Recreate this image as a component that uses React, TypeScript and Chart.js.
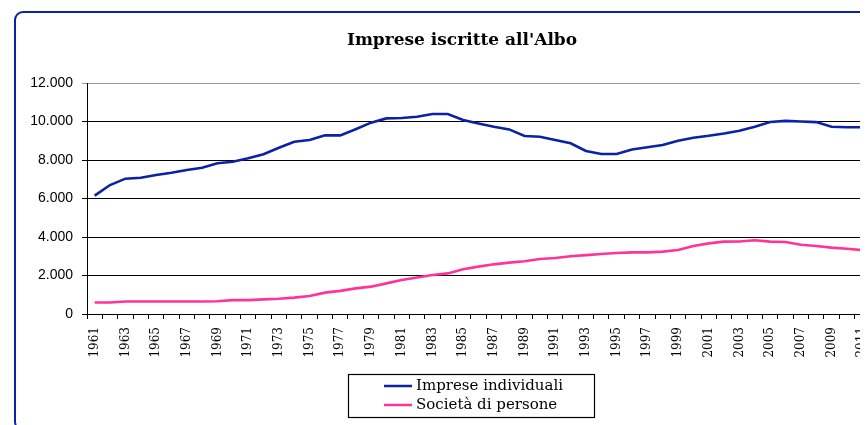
import React, { useEffect, useRef } from "react";
import { Chart, registerables } from "chart.js";

Chart.register(...registerables);

const years: string[] = [];
for (let y = 1961; y <= 2014; y++) years.push(String(y));

const impreseIndividuali = [
  6150, 6700, 7030, 7080, 7220, 7340, 7480, 7600, 7830, 7910,
  8090, 8300, 8640, 8950, 9040, 9280, 9280, 9600, 9940, 10160,
  10180, 10250, 10390, 10390, 10080, 9900, 9730, 9590, 9250, 9210,
  9040, 8870, 8470, 8310, 8310, 8550, 8660, 8780, 9000, 9160,
  9260, 9380, 9520, 9730, 9970, 10030, 10000, 9970, 9730, 9700,
  9700, 9650, 9600, 9550,
];

const societaDiPersone = [
  600, 600, 650, 650, 650, 650, 650, 650, 660, 720,
  720, 760, 790, 850, 935, 1110, 1200, 1330, 1420, 1590,
  1770, 1900, 2030, 2110, 2320, 2460, 2580, 2670, 2740, 2860,
  2910, 3000, 3060, 3120, 3170, 3200, 3200, 3240, 3320, 3530,
  3670, 3760, 3770, 3830, 3760, 3740, 3600, 3530, 3450, 3390,
  3320, 3250, 3200, 3150,
];

const seriesNames = ["Imprese individuali", "Società di persone"];
const seriesColors = ["#0a22a6", "#ff3399"];
const titleText = "Imprese iscritte all'Albo";

const formatIt = (v: number) =>
  String(Math.round(v)).replace(/\B(?=(\d{3})+(?!\d))/g, ".");

const CW = 926;
const CH = 417;

const legendPlugin = {
  id: "boxLegend",
  afterDraw(chart: any) {
    const ctx = chart.ctx;
    ctx.save();
    const bx = 340.5, by = 366.5, bw = 246, bh = 43;
    ctx.strokeStyle = "#000";
    ctx.lineWidth = 1.2;
    ctx.strokeRect(bx, by, bw, bh);
    ctx.font = "15px 'DejaVu Serif'";
    ctx.textBaseline = "middle";
    ctx.fillStyle = "#000";
    const rows = [378, 397];
    seriesNames.forEach((name, i) => {
      ctx.strokeStyle = seriesColors[i];
      ctx.lineWidth = 2.5;
      ctx.beginPath();
      ctx.moveTo(376, rows[i]);
      ctx.lineTo(404, rows[i]);
      ctx.stroke();
      ctx.fillText(name, 408, rows[i]);
    });
    ctx.restore();
  },
};

export default function App() {
  const ref = useRef<HTMLCanvasElement | null>(null);
  useEffect(() => {
    if (!ref.current) return;
    const chart = new Chart(ref.current, {
      type: "line",
      data: {
        labels: years,
        datasets: [
          {
            label: seriesNames[0],
            data: impreseIndividuali,
            borderColor: seriesColors[0],
            backgroundColor: seriesColors[0],
            borderWidth: 2.6,
            pointRadius: 0,
            tension: 0,
          },
          {
            label: seriesNames[1],
            data: societaDiPersone,
            borderColor: seriesColors[1],
            backgroundColor: seriesColors[1],
            borderWidth: 2.6,
            pointRadius: 0,
            tension: 0,
          },
        ],
      },
      options: {
        responsive: false,
        animation: false,
        devicePixelRatio: 1,
        layout: { padding: { left: 0, right: 18, top: 0, bottom: 51 } },
        plugins: {
          legend: { display: false },
          tooltip: { enabled: false },
          title: {
            display: true,
            text: titleText,
            color: "#000",
            font: { family: "'DejaVu Serif'", size: 17, weight: "bold" },
            padding: { top: 22, bottom: 32.6 },
          },
        },
        scales: {
          x: {
            type: "category",
            offset: true,
            border: { display: true, color: "#000", width: 1 },
            grid: {
              display: true,
              offset: true,
              drawOnChartArea: false,
              drawTicks: true,
              tickLength: 5,
              color: "#000",
            },
            ticks: {
              autoSkip: false,
              minRotation: 90,
              maxRotation: 90,
              padding: 8,
              color: "#000",
              font: { family: "'DejaVu Serif'", size: 12 },
              callback: (_v: any, i: number) => (i % 2 === 0 ? years[i] : ""),
            },
            afterFit: (s: any) => {
              s.height = 60;
            },
          },
          y: {
            min: 0,
            max: 12000,
            border: { display: true, color: "#000", width: 1 },
            grid: {
              drawTicks: true,
              tickLength: 5,
              color: (c: any) => (c.tick && c.tick.value === 12000 ? "#9a9a9a" : "#000"),
              lineWidth: 1,
            },
            ticks: {
              stepSize: 2000,
              padding: 9,
              color: "#000",
              font: { family: "'Liberation Sans'", size: 14 },
              callback: (v: any) => formatIt(Number(v)),
            },
            afterFit: (s: any) => {
              s.width = 79;
            },
          },
        },
      },
      plugins: [legendPlugin],
    } as any);
    return () => chart.destroy();
  }, []);

  return (
    <div style={{ position: "relative", width: 860, height: 417, overflow: "hidden" }}>
      <canvas
        ref={ref}
        width={CW}
        height={CH}
        style={{ position: "absolute", left: 0, top: 0, width: CW, height: CH }}
      />
      <div
        style={{
          position: "absolute",
          left: 6,
          top: 3,
          width: 940,
          height: 420,
          border: "2.5px solid #0a22a6",
          borderRadius: 9,
          pointerEvents: "none",
          boxSizing: "border-box",
        }}
      />
    </div>
  );
}
